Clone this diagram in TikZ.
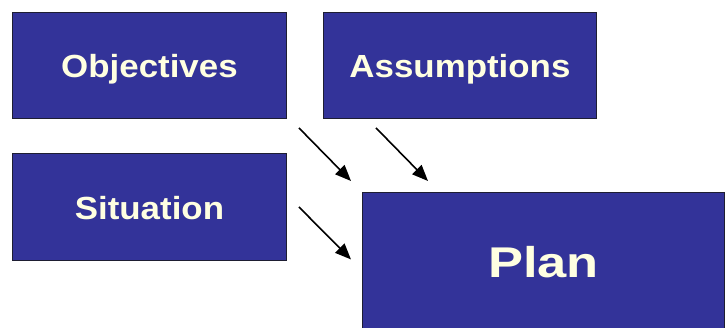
\documentclass[tikz,border=0pt]{standalone}
\usepackage{fontspec}
\usepackage{graphicx}
\setmainfont{Liberation Sans}
\usetikzlibrary{arrows.meta}
\definecolor{boxblue}{RGB}{51,51,153}
\definecolor{boxtext}{RGB}{255,255,225}
\definecolor{boxline}{RGB}{30,30,50}
\begin{document}
\begin{tikzpicture}[x=1pt,y=-1pt,
  box/.style={draw=boxline,line width=0.9pt,fill=boxblue,rectangle,anchor=north west,inner sep=0pt},
  lbl/.style={text=boxtext,font=\bfseries\fontsize{32}{32}\selectfont,text height=23pt,text depth=0pt,inner sep=0pt},
  biglbl/.style={text=boxtext,font=\bfseries\fontsize{43}{43}\selectfont,text height=31pt,text depth=0pt,inner sep=0pt},
  arr/.style={draw=black,line width=1.6pt,-{Triangle[length=16pt,width=13pt]}}]
\useasboundingbox (0,0) rectangle (725,328);
\node[box,minimum width=274pt,minimum height=106pt] (obj) at (12,12) {};
\node[box,minimum width=273pt,minimum height=106pt] (ass) at (323,12) {};
\node[box,minimum width=274pt,minimum height=107pt] (sit) at (12,153) {};
\node[box,minimum width=362pt,minimum height=136pt] (plan) at (362,192) {};
\node[lbl] (tobj) at ([yshift=-1pt]obj.center) {\scalebox{1.09}[1]{Objectives}};
\node[lbl] (tass) at ([yshift=-1pt]ass.center) {\scalebox{1.09}[1]{Assumptions}};
\node[lbl] (tsit) at ([yshift=-1pt]sit.center) {\scalebox{1.09}[1]{Situation}};
\node[biglbl] (tplan) at ([yshift=-2pt]plan.center) {\scalebox{1.22}[1]{Plan}};
\draw[arr] ([shift={(12,9)}]obj.south east) -- ([shift={(-11,-11)}]plan.north west);
\draw[arr] ([shift={(53,9)}]ass.south west) -- ([shift={(66,-11)}]plan.north west);
\draw[arr] ([shift={(12,0)}]sit.east) -- ([shift={(-11,-1)}]plan.west);
\end{tikzpicture}
\end{document}
